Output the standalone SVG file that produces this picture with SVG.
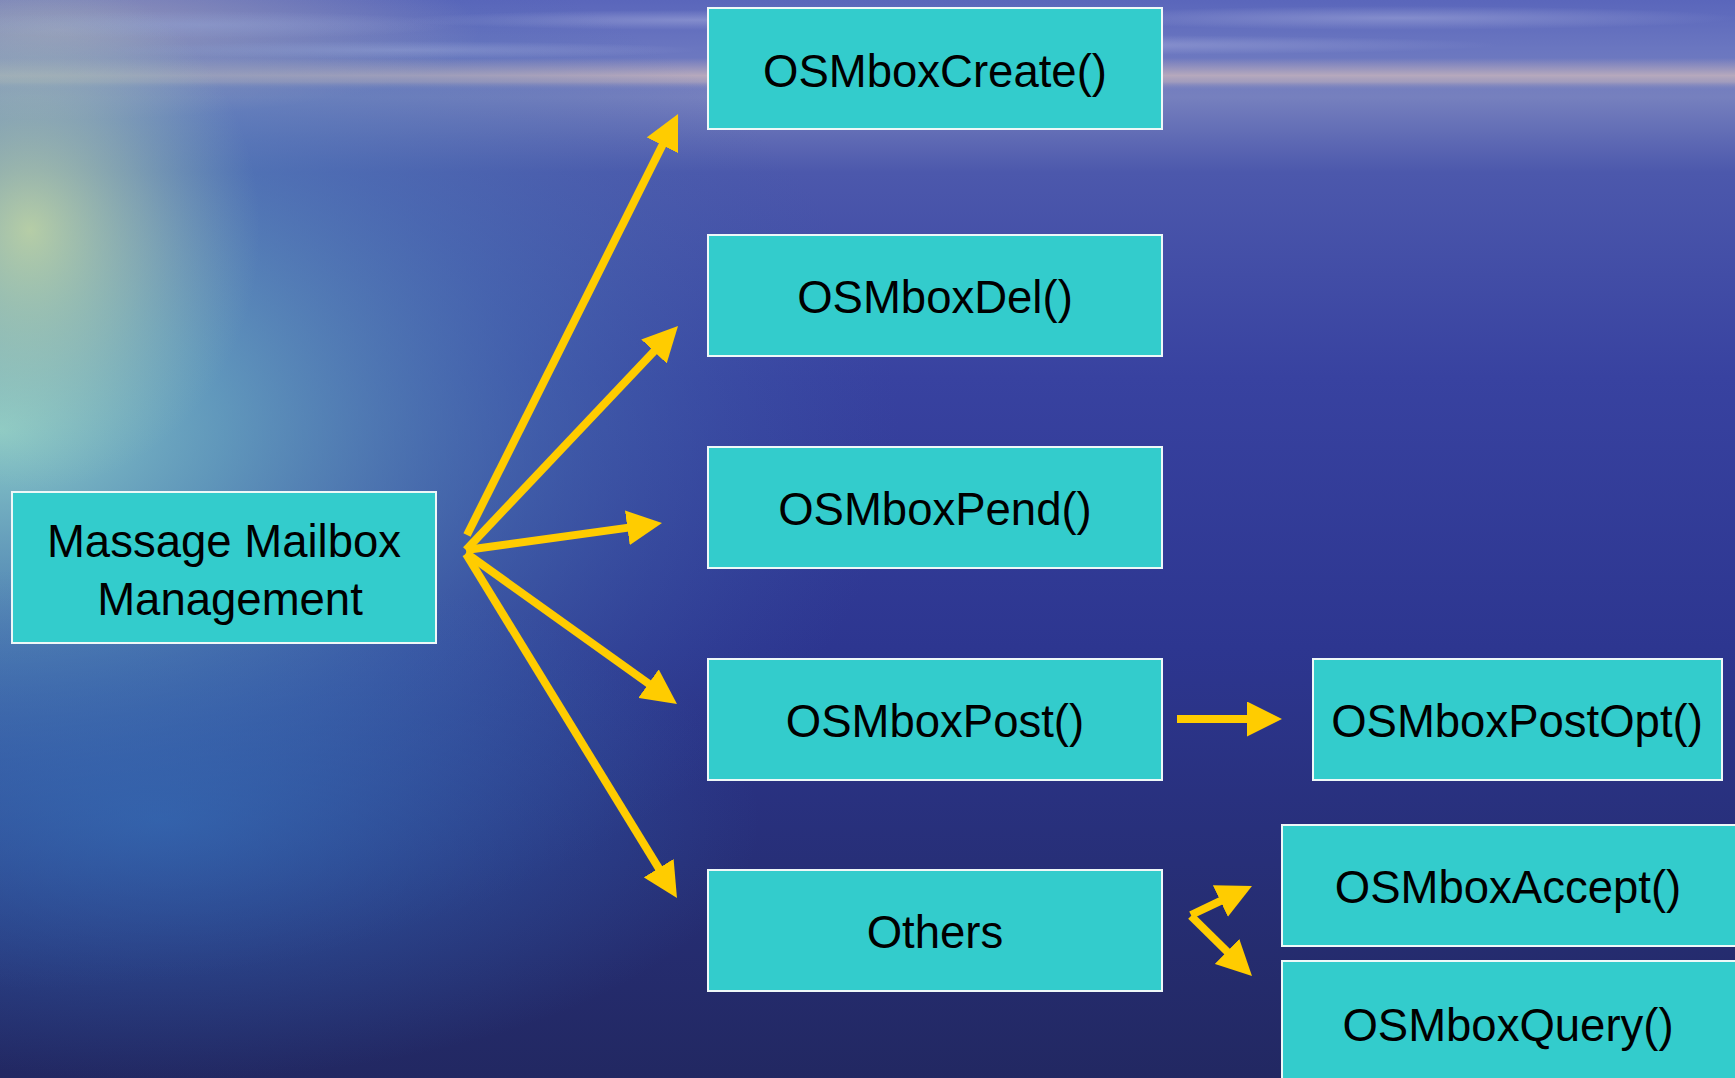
<svg xmlns="http://www.w3.org/2000/svg" width="1735" height="1078" viewBox="0 0 1735 1078">
<defs>
<linearGradient id="bg" x1="0" y1="0" x2="0" y2="1">
<stop offset="0" stop-color="#5a66bb"/>
<stop offset="0.045" stop-color="#6a76c0"/>
<stop offset="0.09" stop-color="#7680be"/>
<stop offset="0.16" stop-color="#4c58ac"/>
<stop offset="0.35" stop-color="#3842a0"/>
<stop offset="0.6" stop-color="#2d3690"/>
<stop offset="0.8" stop-color="#272f78"/>
<stop offset="1" stop-color="#222862"/>
</linearGradient>
<linearGradient id="hz" x1="0" y1="0" x2="0" y2="1">
<stop offset="0" stop-color="#c8b4bc" stop-opacity="0"/>
<stop offset="0.55" stop-color="#cdb8bc" stop-opacity="0.75"/>
<stop offset="0.75" stop-color="#c0b0bc" stop-opacity="0.6"/>
<stop offset="1" stop-color="#8088c0" stop-opacity="0"/>
</linearGradient>
<radialGradient id="glow" cx="0.5" cy="0.5" r="0.5">
<stop offset="0" stop-color="#94dacc" stop-opacity="0.9"/>
<stop offset="0.25" stop-color="#72bcc8" stop-opacity="0.7"/>
<stop offset="0.6" stop-color="#4f86bc" stop-opacity="0.4"/>
<stop offset="1" stop-color="#3a60a8" stop-opacity="0"/>
</radialGradient>
<radialGradient id="sun" cx="0.5" cy="0.5" r="0.5">
<stop offset="0" stop-color="#d4e4a0" stop-opacity="0.75"/>
<stop offset="0.5" stop-color="#bcd6ac" stop-opacity="0.4"/>
<stop offset="1" stop-color="#a0c8b8" stop-opacity="0"/>
</radialGradient>
<radialGradient id="blueL" cx="0.5" cy="0.5" r="0.5">
<stop offset="0" stop-color="#3572bc" stop-opacity="0.65"/>
<stop offset="1" stop-color="#3572bc" stop-opacity="0"/>
</radialGradient>
<radialGradient id="pink" cx="0.5" cy="0.5" r="0.5">
<stop offset="0" stop-color="#c8b0bc" stop-opacity="0.75"/>
<stop offset="1" stop-color="#c8b0bc" stop-opacity="0"/>
</radialGradient>
<radialGradient id="cloud" cx="0.5" cy="0.5" r="0.5">
<stop offset="0" stop-color="#a8aedc" stop-opacity="0.5"/>
<stop offset="1" stop-color="#a8aedc" stop-opacity="0"/>
</radialGradient>
<marker id="ah" markerUnits="userSpaceOnUse" markerWidth="35" markerHeight="35" refX="5" refY="17.5" orient="auto">
<path d="M0,0 L35,17.5 L0,35 Z" fill="#ffcc00"/>
</marker>
<style>
.node rect{fill:#33cccc;stroke:#eef8f8;stroke-width:2}
.node text{font-family:"Liberation Sans",Arial,sans-serif;font-size:45.5px;fill:#000;text-anchor:middle}
.conn line{stroke:#ffcc00;stroke-width:8;fill:none;marker-end:url(#ah)}
</style>
</defs>
<g id="background">
<rect x="0" y="0" width="1735" height="1078" fill="url(#bg)"/>
<ellipse cx="60" cy="30" rx="420" ry="90" fill="url(#pink)"/>
<ellipse cx="200" cy="25" rx="260" ry="14" fill="url(#cloud)"/>
<ellipse cx="700" cy="20" rx="300" ry="10" fill="url(#cloud)"/>
<ellipse cx="1400" cy="18" rx="340" ry="12" fill="url(#cloud)"/>
<ellipse cx="1100" cy="45" rx="400" ry="10" fill="url(#cloud)"/>
<ellipse cx="400" cy="50" rx="300" ry="9" fill="url(#cloud)"/>
<rect x="0" y="58" width="1735" height="32" fill="url(#hz)"/>
<ellipse cx="0" cy="430" rx="900" ry="560" fill="url(#glow)"/>
<ellipse cx="30" cy="230" rx="230" ry="260" fill="url(#sun)"/>
<ellipse cx="160" cy="820" rx="600" ry="260" fill="url(#blueL)"/>
</g>
<g id="mm" class="node">
<rect x="12" y="492" width="424" height="151"/>
<text x="224" y="557">Massage Mailbox</text>
<text x="230" y="615">Management</text>
</g>
<g id="create" class="node">
<rect x="708" y="8" width="454" height="121"/>
<text x="935" y="87">OSMboxCreate()</text>
</g>
<g id="del" class="node">
<rect x="708" y="235" width="454" height="121"/>
<text x="935" y="313">OSMboxDel()</text>
</g>
<g id="pend" class="node">
<rect x="708" y="447" width="454" height="121"/>
<text x="935" y="525">OSMboxPend()</text>
</g>
<g id="post" class="node">
<rect x="708" y="659" width="454" height="121"/>
<text x="935" y="737">OSMboxPost()</text>
</g>
<g id="others" class="node">
<rect x="708" y="870" width="454" height="121"/>
<text x="935" y="948">Others</text>
</g>
<g id="postopt" class="node">
<rect x="1313" y="659" width="409" height="121"/>
<text x="1517" y="737">OSMboxPostOpt()</text>
</g>
<g id="accept" class="node">
<rect x="1282" y="825" width="470" height="121"/>
<text x="1508" y="903">OSMboxAccept()</text>
</g>
<g id="query" class="node">
<rect x="1282" y="961" width="470" height="130"/>
<text x="1508" y="1041">OSMboxQuery()</text>
</g>
<g id="connectors" class="conn">
<line x1="467" y1="535" x2="664.6" y2="140.8"/>
<line x1="466" y1="550" x2="657.4" y2="347.8"/>
<line x1="466" y1="550" x2="632.3" y2="527.1"/>
<line x1="466" y1="553" x2="652.6" y2="686.5"/>
<line x1="466" y1="554" x2="661.3" y2="872.4"/>
<line x1="1177" y1="719" x2="1252" y2="719"/>
<line x1="1191" y1="915" x2="1224.9" y2="898.9"/>
<line x1="1191" y1="916" x2="1230.6" y2="955"/>
</g>
</svg>
